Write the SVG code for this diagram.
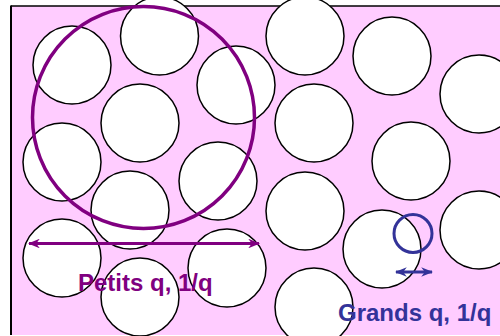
<svg xmlns="http://www.w3.org/2000/svg" width="500" height="336" viewBox="0 0 500 336">
<defs>
<style>
.p{fill:#fff;stroke:#000;stroke-width:1.5}
.t{font-family:"Liberation Sans",Arial,sans-serif;font-weight:bold;font-size:24px}
</style>
<marker id="ap" viewBox="0 0 10 8" refX="9" refY="4" markerWidth="4" markerHeight="3.2" orient="auto-start-reverse" markerUnits="strokeWidth">
<path d="M0,0 L10,4 L0,8 L3,4 Z" fill="#800080"/>
</marker>
<marker id="ab" viewBox="0 0 10 8" refX="9" refY="4" markerWidth="4" markerHeight="3.2" orient="auto-start-reverse" markerUnits="strokeWidth">
<path d="M0,0 L10,4 L0,8 L3,4 Z" fill="#333399"/>
</marker>
</defs>
<rect x="11" y="6" width="495" height="329" fill="#FFCCFF"/>
<line x1="11" y1="6" x2="500" y2="6" stroke="#000" stroke-width="1.5"/>
<line x1="11" y1="5.5" x2="11" y2="335" stroke="#000" stroke-width="2"/>
<g id="particles">
<circle id="c1" class="p" cx="72" cy="65" r="39"/>
<circle id="c2" class="p" cx="159.5" cy="36" r="39"/>
<circle id="c3" class="p" cx="236" cy="85" r="39"/>
<circle id="c4" class="p" cx="140" cy="123" r="39"/>
<circle id="c5" class="p" cx="62" cy="162" r="39"/>
<circle id="c6" class="p" cx="218" cy="181" r="39"/>
<circle id="c7" class="p" cx="305" cy="36" r="39"/>
<circle id="c8" class="p" cx="392" cy="56" r="39"/>
<circle id="c9" class="p" cx="479" cy="94" r="39"/>
<circle id="c10" class="p" cx="314" cy="123" r="39"/>
<circle id="c11" class="p" cx="411" cy="161" r="39"/>
<circle id="c12" class="p" cx="130" cy="210" r="39"/>
<circle id="c13" class="p" cx="62" cy="258" r="39"/>
<circle id="c14" class="p" cx="140" cy="297" r="39"/>
<circle id="c15" class="p" cx="227" cy="268" r="39"/>
<circle id="c16" class="p" cx="305" cy="211" r="39"/>
<circle id="c17" class="p" cx="382" cy="249" r="39"/>
<circle id="c18" class="p" cx="479" cy="230" r="39"/>
<circle id="c19" class="p" cx="314" cy="307" r="39"/>
</g>
<g id="small-q">
<circle cx="143.5" cy="117.5" r="111" fill="none" stroke="#800080" stroke-width="3.5"/>
</g>
<g id="large-q">
<circle cx="413" cy="233.5" r="19" fill="none" stroke="#333399" stroke-width="3"/>
</g>
<g id="connectors">
<line x1="29" y1="243.5" x2="259" y2="243.5" stroke="#800080" stroke-width="3" marker-start="url(#ap)" marker-end="url(#ap)"/>
<line x1="396" y1="272" x2="432" y2="272" stroke="#333399" stroke-width="3" marker-start="url(#ab)" marker-end="url(#ab)"/>
</g>
<text class="t" x="78" y="291" fill="#800080">Petits q, 1/q</text>
<text class="t" x="338" y="320.5" fill="#333399">Grands q, 1/q</text>
</svg>
